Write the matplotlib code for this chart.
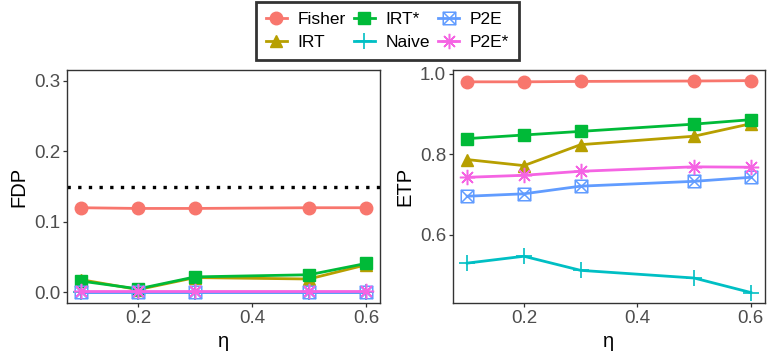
import matplotlib.pyplot as plt
import numpy as np
from matplotlib.path import Path
from matplotlib.lines import Line2D

plt.rcParams['font.family'] = ['Liberation Sans', 'DejaVu Sans']

eta = [0.1, 0.2, 0.3, 0.5, 0.6]
methods = ['Fisher', 'IRT', 'IRT*', 'Naive', 'P2E', 'P2E*']

fdp_fisher = [0.120, 0.119, 0.119, 0.120, 0.120]
fdp_irt = [0.018, 0.004, 0.021, 0.019, 0.039]
fdp_irt_star = [0.016, 0.005, 0.022, 0.025, 0.041]
fdp_naive = [0.0, 0.0, 0.0, 0.0, 0.0]
fdp_p2e = [0.0, 0.0, 0.0, 0.0, 0.0]
fdp_p2e_star = [0.002, 0.002, 0.002, 0.002, 0.002]

etp_fisher = [0.980, 0.980, 0.981, 0.982, 0.983]
etp_irt = [0.787, 0.772, 0.824, 0.845, 0.876]
etp_irt_star = [0.839, 0.848, 0.857, 0.875, 0.886]
etp_naive = [0.530, 0.547, 0.512, 0.493, 0.457]
etp_p2e = [0.696, 0.702, 0.721, 0.733, 0.743]
etp_p2e_star = [0.743, 0.748, 0.758, 0.769, 0.768]

fdp_target = 0.15

fdp = [fdp_fisher, fdp_irt, fdp_irt_star, fdp_naive, fdp_p2e, fdp_p2e_star]
etp = [etp_fisher, etp_irt, etp_irt_star, etp_naive, etp_p2e, etp_p2e_star]

colors = ['#F8766D', '#B79F00', '#00BA38', '#00BFC4', '#619CFF', '#F564E3']

# square with a cross inside (ggplot shape 7)
sq_cross = Path(
    [(-1, -1), (1, -1), (1, 1), (-1, 1), (-1, -1), (-1, -1), (1, 1), (-1, 1), (1, -1)],
    [Path.MOVETO, Path.LINETO, Path.LINETO, Path.LINETO, Path.CLOSEPOLY,
     Path.MOVETO, Path.LINETO, Path.MOVETO, Path.LINETO])

styles = [
    dict(marker='o', ms=9),
    dict(marker='^', ms=9),
    dict(marker='s', ms=8.5),
    dict(marker='+', ms=11, mew=1.2),
    dict(marker=sq_cross, ms=9, mfc='none', mew=1.1),
    dict(marker=(8, 2, 0), ms=11, mew=1.1),
]

fig = plt.figure(figsize=(7.75, 3.61), dpi=100)
ax1 = fig.add_axes([0.0865, 0.1607, 0.404, 0.645])
ax2 = fig.add_axes([0.5845, 0.1607, 0.4026, 0.645])


def style_axes(ax, ylabel):
    for s in ax.spines.values():
        s.set_color('#333333')
        s.set_linewidth(1.0)
    ax.tick_params(colors='#333333', labelcolor='#4D4D4D', labelsize=13.5,
                   length=3, width=0.9, direction='out', pad=2)
    ax.set_xlabel('η', fontsize=14.5, labelpad=4)
    ax.set_ylabel(ylabel, fontsize=14.5, labelpad=4)
    ax.set_xlim(0.075, 0.625)
    ax.set_xticks([0.2, 0.4, 0.6])


for vals, c, st in zip(fdp, colors, styles):
    ax1.plot(eta, vals, color=c, lw=2, mec=c, **st)
ax1.axhline(fdp_target, color='black', ls=(0, (1, 2.2)), lw=2.4)
ax1.set_ylim(-0.015, 0.315)
ax1.set_yticks([0.0, 0.1, 0.2, 0.3])
style_axes(ax1, 'FDP')

for vals, c, st in zip(etp, colors, styles):
    ax2.plot(eta, vals, color=c, lw=2, mec=c, **st)
ax2.set_ylim(0.431, 1.009)
ax2.set_yticks([0.6, 0.8, 1.0])
style_axes(ax2, 'ETP')

handles = [Line2D([], [], color=c, lw=2, mec=c, **st) for c, st in zip(colors, styles)]
leg = fig.legend(handles, methods, ncol=3, loc='center',
                 bbox_to_anchor=(387.5 / 775, 1 - 31 / 361), fontsize=12.5,
                 frameon=True, fancybox=False, handlelength=1.2,
                 columnspacing=0.5, handletextpad=0.6, labelspacing=0.45,
                 borderpad=0.55, borderaxespad=0)
leg.get_frame().set_edgecolor('black')
leg.get_frame().set_linewidth(2)

fig.savefig('out.png', dpi=100)
